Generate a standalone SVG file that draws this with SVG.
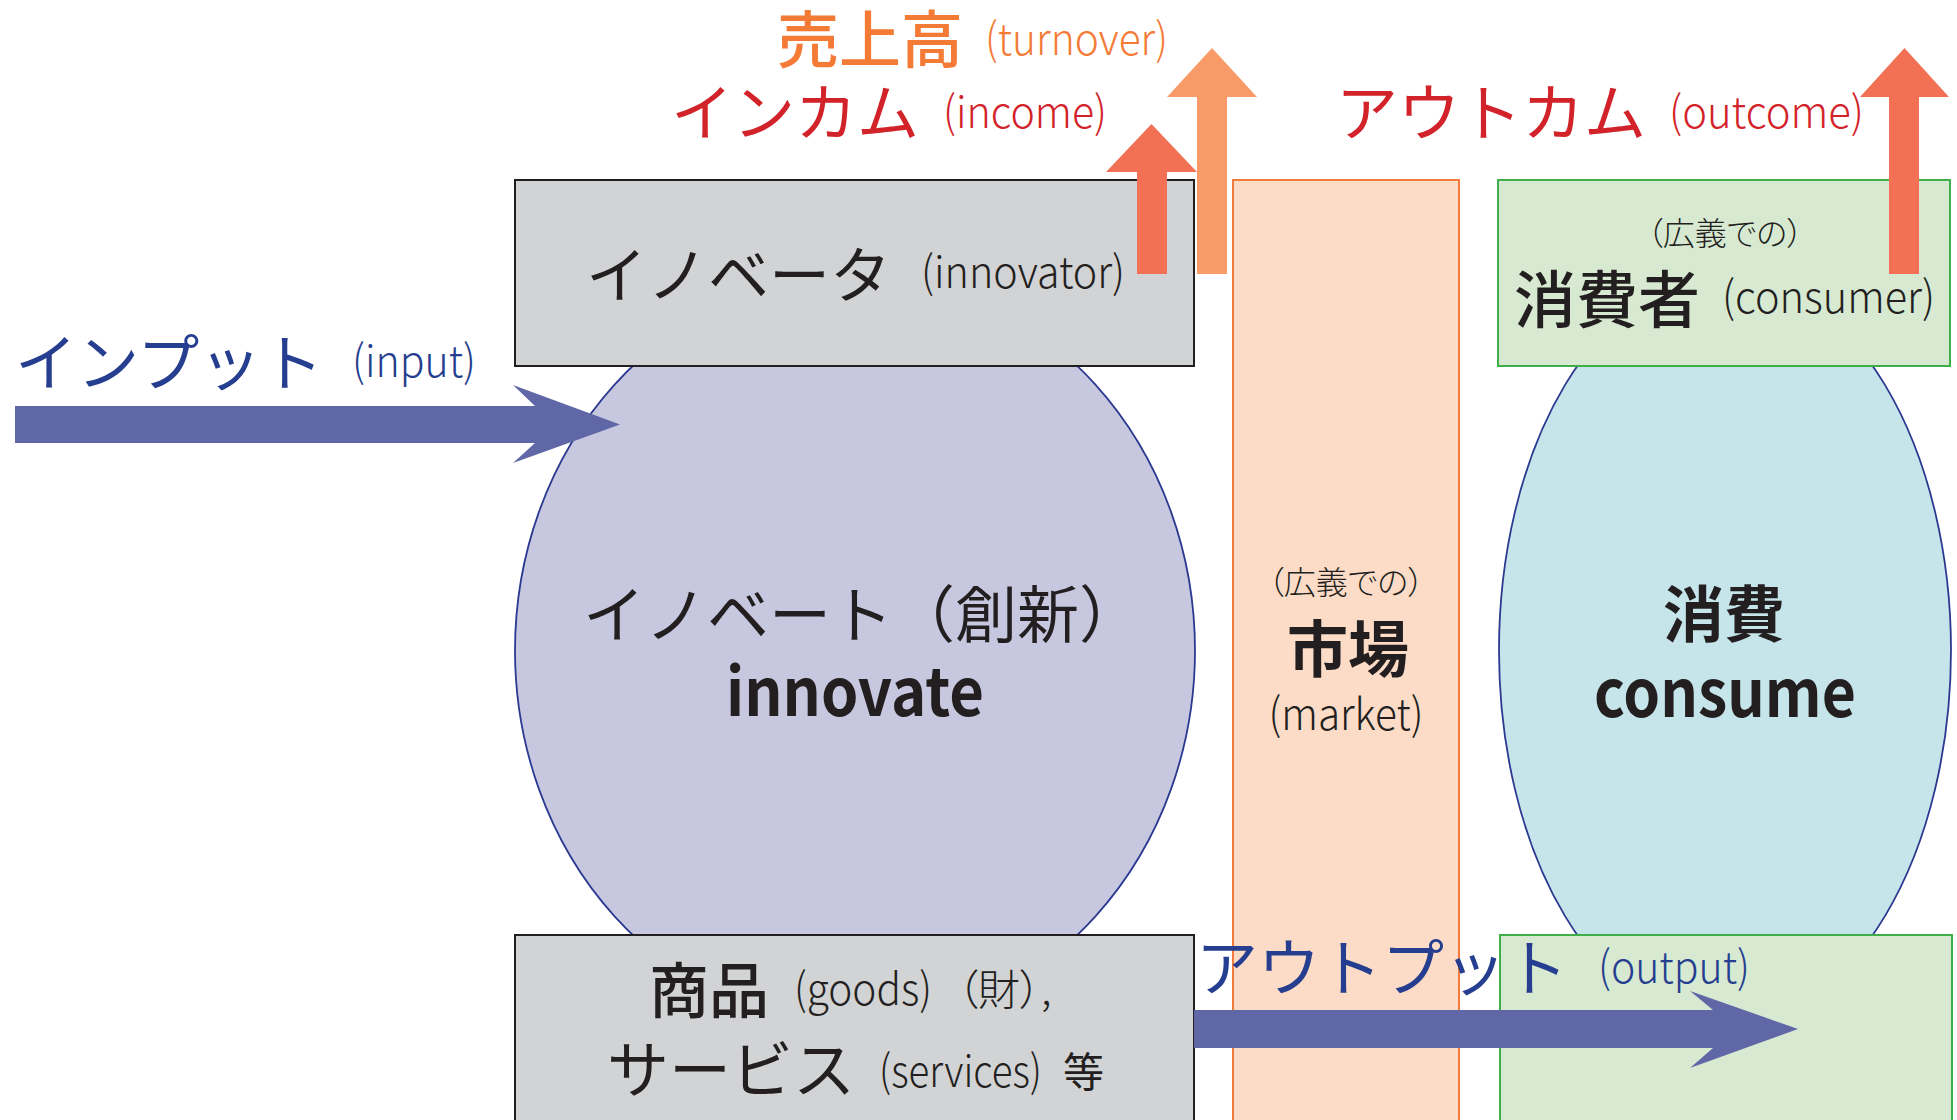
<svg xmlns="http://www.w3.org/2000/svg" width="1957" height="1120" viewBox="0 0 1957 1120">
<style>
text{font-family:"Noto Sans CJK JP","Noto Sans",sans-serif}
.jp{font-size:62px}
.lat{font-size:44px;font-weight:300}
.sm{font-size:32px;font-weight:300;font-feature-settings:"palt"}
.blk{fill:#231f20}
.navy{fill:#253e8f}
.red{fill:#d2232a}
.org{fill:#f47b36}
.b{font-weight:700}
.m{font-weight:500}
.gray{fill:#d1d3d4;stroke:#231f20;stroke-width:2}
.green{fill:#d7e9d1;stroke:#3fae49;stroke-width:2}
.ell{stroke:#2b3990;stroke-width:1.8}
.blue{fill:#5f67a7}
.up1{fill:#f27155}
.up2{fill:#f89b69}
</style>
<rect width="1957" height="1120" fill="#ffffff"/>

<g id="innovate">
<ellipse class="ell" cx="855" cy="650.5" rx="340" ry="376" fill="#c7c8e0"/>
<text class="jp blk" x="583" y="638">イノベート（創新）</text>
<text class="blk b" x="726" y="716" font-size="66" textLength="258" lengthAdjust="spacingAndGlyphs">innovate</text>
</g>

<g id="consume">
<ellipse class="ell" cx="1725" cy="650.5" rx="226" ry="376" fill="#c5e5ea"/>
<text class="blk b" x="1724" y="637" font-size="61" text-anchor="middle">消費</text>
<text class="blk b" x="1725" y="717" font-size="66" text-anchor="middle" textLength="262" lengthAdjust="spacingAndGlyphs">consume</text>
</g>

<g id="innovator">
<rect class="gray" x="515" y="180" width="679" height="186"/>
<text class="blk" x="586" y="298" font-size="61">イノベータ</text>
<text class="lat blk" x="921" y="288" textLength="204" lengthAdjust="spacingAndGlyphs">(innovator)</text>
</g>

<g id="goods">
<rect class="gray" x="515" y="935" width="679" height="200"/>
<text class="blk m" x="649" y="1013" font-size="60">商品</text>
<text class="lat blk" x="794" y="1005" textLength="138" lengthAdjust="spacingAndGlyphs">(goods)</text>
<text class="blk" x="957" y="1005" font-size="42" font-weight="300" style="font-feature-settings:'palt'">（財）,</text>
<text class="blk" x="607" y="1093" font-size="62">サービス</text>
<text class="lat blk" x="879" y="1087" textLength="163" lengthAdjust="spacingAndGlyphs">(services)</text>
<text class="blk" x="1063" y="1087" font-size="41">等</text>
</g>

<g id="market">
<rect x="1233" y="180" width="226" height="950" fill="#fcdcc6" stroke="#f37a3b" stroke-width="2"/>
<text class="sm blk" x="1346" y="594" text-anchor="middle">（広義での）</text>
<text class="blk b" x="1348" y="672" font-size="61" text-anchor="middle">市場</text>
<text class="lat blk" x="1346" y="730" text-anchor="middle" textLength="155" lengthAdjust="spacingAndGlyphs">(market)</text>
</g>

<g id="consumer">
<rect class="green" x="1498" y="180" width="452" height="186"/>
<text class="sm blk" x="1725" y="245" text-anchor="middle">（広義での）</text>
<text class="blk m" x="1514" y="323" font-size="62">消費者</text>
<text class="lat blk" x="1722" y="313" textLength="213" lengthAdjust="spacingAndGlyphs">(consumer)</text>
</g>

<g id="output-box">
<rect class="green" x="1500" y="935" width="452" height="200"/>
</g>

<g id="connectors">
<polygon id="input-arrow" class="blue" points="15,406 535,406 513,385 620,424.5 513,463 535,443 15,443"/>
<polygon id="output-arrow" class="blue" points="1194,1010 1713,1010 1690,991 1798,1029 1690,1068 1713,1048 1194,1048"/>
<polygon id="income-arrow" class="up1" points="1137,274 1137,172 1106,172 1151.5,124 1197,172 1167,172 1167,274"/>
<polygon id="turnover-arrow" class="up2" points="1197,274 1197,97 1167,97 1212,48 1257,97 1227,97 1227,274"/>
<polygon id="outcome-arrow" class="up1" points="1889,274 1889,97 1860,97 1904.5,48 1949,97 1919,97 1919,274"/>
</g>

<g id="labels">
<text class="jp org m" x="777" y="63">売上高</text>
<text class="lat org" x="985" y="55" textLength="183" lengthAdjust="spacingAndGlyphs">(turnover)</text>
<text class="jp red" x="671" y="136">インカム</text>
<text class="lat red" x="943" y="128" textLength="164" lengthAdjust="spacingAndGlyphs">(income)</text>
<text class="jp red" x="1336" y="136">アウトカム</text>
<text class="lat red" x="1669" y="128" textLength="195" lengthAdjust="spacingAndGlyphs">(outcome)</text>
<text class="navy" x="15" y="386" font-size="62">インプット</text>
<text class="lat navy" x="352" y="377" textLength="124" lengthAdjust="spacingAndGlyphs">(input)</text>
<text class="navy" x="1196" y="991" font-size="62">アウトプット</text>
<text class="lat navy" x="1598" y="983" textLength="152" lengthAdjust="spacingAndGlyphs">(output)</text>
</g>
</svg>
